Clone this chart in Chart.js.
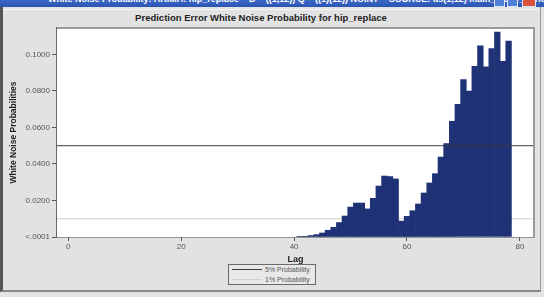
<!DOCTYPE html>
<html>
<head>
  <title>Prediction Error White Noise Probability</title>
  <script src="https://cdn.jsdelivr.net/npm/chart.js"></script>
  <style>
    body {
      margin: 0;
      width: 544px;
      height: 297px;
      overflow: hidden;
      background: #e4e4e4;
      font-family: Arial, 'Liberation Sans', sans-serif;
      position: relative;
    }
    .titlebar {
      position: absolute; left: 0; top: 0; width: 544px; height: 7px;
      background: linear-gradient(#3d68c6, #2b55b3);
      overflow: hidden;
    }
    .titlebar span {
      position: absolute; left: 48px; top: -6px;
      color: #fff; font-size: 9px; font-weight: bold; white-space: nowrap;
    }
    .btn {
      position: absolute; top: 0; width: 11px; height: 7px;
      background: #4f7fd8; border: 1px solid #dfe8fa; border-top: none; box-sizing: border-box;
    }
    .frame {
      position: absolute; left: 0; top: 7px; width: 541px; height: 285px;
      border-left: 3px solid #555; border-bottom: 2px solid #8a8a8a; border-right: 1px solid #9a9a9a;
      box-sizing: border-box; background: #e2e2e2;
    }
    .frame-top { position: absolute; left: 3px; top: 9px; width: 537px; height: 1px; background: #f4f4f4; }
    #chartTitle {
      position: absolute; left: 0; width: 522px; top: 12px; text-align: center;
      font-size: 9.5px; font-weight: bold; color: #222;
    }
    canvas { position: absolute; left: 0; top: 0; }
    #legend {
      position: absolute; left: 228px; top: 264px; width: 88px; height: 21px;
      border: 1px solid #6a6a6a; box-sizing: border-box; background: #e8e8e8;
      font-size: 7px; color: #555;
    }
    #legend .row { display: flex; align-items: center; height: 9.5px; }
    #legend .swatch { width: 30px; margin: 0 3px 0 3px; height: 0; }
  </style>
</head>
<body>
  <div class="titlebar"><span>White Noise Probability: ARIMA: hip_replace ~ D = ((1,12)) Q = ((1)(12)) NOINT ~ SOURCE: ds(1,12) main_study_period...</span></div>
  <div class="btn" style="left:494px"></div>
  <div class="btn" style="left:507px"></div>
  <div class="btn" style="left:522px;width:14px;background:#d9533b"></div>
  <div class="frame"></div>
  <div class="frame-top"></div>
  <div id="chartTitle">Prediction Error White Noise Probability for hip_replace</div>
  <canvas id="wnChart" width="544" height="297"></canvas>
  <div id="legend"></div>

  <script>
    // lag numbers and white noise probabilities
    const lags = [1, 2, 3, 4, 5, 6, 7, 8, 9, 10, 11, 12, 13, 14, 15, 16, 17, 18, 19, 20,
                  21, 22, 23, 24, 25, 26, 27, 28, 29, 30, 31, 32, 33, 34, 35, 36, 37, 38, 39, 40,
                  41, 42, 43, 44, 45, 46, 47, 48, 49, 50, 51, 52, 53, 54, 55, 56, 57, 58, 59, 60,
                  61, 62, 63, 64, 65, 66, 67, 68, 69, 70, 71, 72, 73, 74, 75, 76, 77, 78];
    const probs = [0, 0, 0, 0, 0, 0, 0, 0, 0, 0, 0, 0, 0, 0, 0, 0, 0, 0, 0, 0,
                   0, 0, 0, 0, 0, 0, 0, 0, 0, 0, 0, 0, 0, 0, 0, 0, 0, 0, 0, 0,
                   0.0002, 0.0004, 0.0008, 0.0013, 0.0022, 0.0037, 0.0053, 0.0079, 0.0115, 0.0164,
                   0.0186, 0.0186, 0.0154, 0.0212, 0.0279, 0.0334, 0.0331, 0.0318, 0.0087, 0.0113,
                   0.0144, 0.0181, 0.0241, 0.0296, 0.0347, 0.0438, 0.0512, 0.0634, 0.0727, 0.0862,
                   0.0800, 0.0935, 0.1047, 0.0932, 0.1032, 0.1123, 0.0963, 0.1074];

    const refLabels = ['5% Probability', '1% Probability'];
    const refLevels = [0.05, 0.01];
    const refColors = ['#3a3a3a', '#cfcfcf'];

    const xTicks = [0, 20, 40, 60, 80];
    const yTicks = [0, 0.02, 0.04, 0.06, 0.08, 0.10];
    const xRange = [-2, 82.5];
    const yRange = [0, 0.1145];

    const refDatasets = refLevels.map((lvl, i) => ({
      type: 'line',
      label: refLabels[i],
      data: xRange.map(x => ({ x: x, y: lvl })),
      borderColor: refColors[i],
      borderWidth: 1,
      pointRadius: 0,
      order: i === 0 ? 0 : 2
    }));

    // plot frame on top/right, like the SAS graph
    const framePlugin = {
      id: 'frame',
      beforeDatasetsDraw(chart) {
        const a = chart.chartArea, ctx = chart.ctx;
        ctx.save();
        ctx.fillStyle = '#ffffff';
        ctx.fillRect(a.left, a.top, a.right - a.left, a.bottom - a.top);
        ctx.restore();
      },
      afterDraw(chart) {
        const a = chart.chartArea, ctx = chart.ctx;
        ctx.save();
        ctx.strokeStyle = '#9a9a9a';
        ctx.lineWidth = 2;
        ctx.beginPath();
        ctx.moveTo(a.left, a.top);
        ctx.lineTo(a.right, a.top);
        ctx.lineTo(a.right, a.bottom);
        ctx.stroke();
        ctx.restore();
      }
    };

    const tickFont = { family: 'Arial', size: 8 };

    new Chart(document.getElementById('wnChart'), {
      type: 'bar',
      data: {
        datasets: [{
          label: 'White Noise Probability',
          // zero lags are left out so no hairline is drawn on the axis
          data: lags.map((l, i) => ({ x: l, y: probs[i] > 0 ? probs[i] : null })),
          backgroundColor: '#203276',
          borderWidth: 0,
          barPercentage: 1,
          categoryPercentage: 1,
          order: 1
        }].concat(refDatasets)
      },
      options: {
        responsive: false,
        animation: false,
        layout: { padding: { left: 5, right: 10, top: 28, bottom: 30 } },
        plugins: {
          legend: { display: false },
          tooltip: { enabled: false }
        },
        scales: {
          x: {
            type: 'linear',
            min: xRange[0],
            max: xRange[1],
            offset: false,
            afterBuildTicks: s => { s.ticks = xTicks.map(v => ({ value: v })); },
            afterFit: s => { s.height = 30; },
            ticks: { font: tickFont, color: '#555', padding: 1, maxRotation: 0 },
            grid: { offset: false, drawOnChartArea: false, drawTicks: true, tickLength: 4, color: '#555' },
            border: { color: '#444', width: 1.5 },
            title: { display: true, text: 'Lag', font: { family: 'Arial', size: 9, weight: 'bold' }, color: '#222', padding: { top: 0, bottom: 2 } }
          },
          y: {
            min: yRange[0],
            max: yRange[1],
            afterBuildTicks: s => { s.ticks = yTicks.map(v => ({ value: v })); },
            afterFit: s => { s.width = 52; },
            ticks: {
              font: tickFont, color: '#555', padding: 2,
              callback: v => v === 0 ? '<.0001' : v.toFixed(4)
            },
            grid: { drawOnChartArea: false, drawTicks: true, tickLength: 5, color: '#555' },
            border: { color: '#666', width: 1.5 },
            title: { display: true, text: 'White Noise Probabilities', font: { family: 'Arial', size: 8.5, weight: 'bold' }, color: '#222', padding: { top: 4, bottom: 0 } }
          }
        }
      },
      plugins: [framePlugin]
    });

    // boxed legend under the axis title
    const legendEl = document.getElementById('legend');
    refLabels.forEach((lbl, i) => {
      const row = document.createElement('div');
      row.className = 'row';
      row.innerHTML = '<div class="swatch" style="border-top:1px solid ' + refColors[i] + '"></div><span>' + lbl + '</span>';
      legendEl.appendChild(row);
    });
  </script>
</body>
</html>
